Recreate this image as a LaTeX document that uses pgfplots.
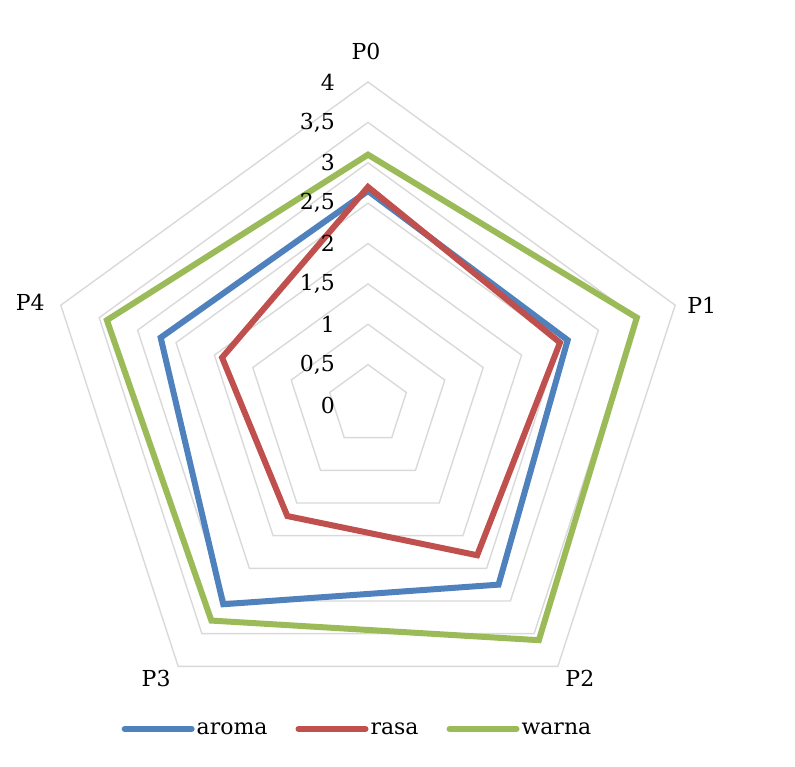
\documentclass[border=0pt]{standalone}
\usepackage{fontspec}
\setmainfont{DejaVu Serif}
\usepackage{pgfplots}
\usepgfplotslibrary{polar}
\pgfplotsset{compat=1.18}
\definecolor{cblue}{HTML}{4F81BD}
\definecolor{cred}{HTML}{C0504D}
\definecolor{cgreen}{HTML}{9BBB59}
\definecolor{gridc}{HTML}{D9D9D9}
\newcommand{\lf}{\fontsize{22bp}{26bp}\selectfont}
\begin{document}
\begin{tikzpicture}
\path[use as bounding box] (0,0) rectangle (795bp,767bp);
\begin{polaraxis}[
  at={(368bp,362bp)}, anchor=center,
  width=646bp, height=646bp, scale only axis,
  xmin=0, xmax=360, ymin=0, ymax=4,
  hide axis, clip=false,
  legend columns=3,
  legend image code/.code={\draw[#1,line cap=round] (0bp,0bp) -- (67bp,0bp);},
  legend style={at={(0.4837,-0.0015)}, anchor=center, draw=none, fill=none,
    font=\lf, inner xsep=0pt, inner ysep=0pt,
    nodes={inner sep=2bp},
    /tikz/every even column/.append style={column sep=26bp}},
]
\addplot[gridc, line width=1.4bp, forget plot] coordinates {(90,0.5)(18,0.5)(306,0.5)(234,0.5)(162,0.5)} --cycle;
\addplot[gridc, line width=1.4bp, forget plot] coordinates {(90,1)(18,1)(306,1)(234,1)(162,1)} --cycle;
\addplot[gridc, line width=1.4bp, forget plot] coordinates {(90,1.5)(18,1.5)(306,1.5)(234,1.5)(162,1.5)} --cycle;
\addplot[gridc, line width=1.4bp, forget plot] coordinates {(90,2)(18,2)(306,2)(234,2)(162,2)} --cycle;
\addplot[gridc, line width=1.4bp, forget plot] coordinates {(90,2.5)(18,2.5)(306,2.5)(234,2.5)(162,2.5)} --cycle;
\addplot[gridc, line width=1.4bp, forget plot] coordinates {(90,3)(18,3)(306,3)(234,3)(162,3)} --cycle;
\addplot[gridc, line width=1.4bp, forget plot] coordinates {(90,3.5)(18,3.5)(306,3.5)(234,3.5)(162,3.5)} --cycle;
\addplot[gridc, line width=1.4bp, forget plot] coordinates {(90,4)(18,4)(306,4)(234,4)(162,4)} --cycle;
% aroma
\addplot[cblue, line width=6bp, line join=miter] coordinates {(90,2.65)(18,2.6)(306,2.75)(234,3.05)(162,2.7)} --cycle;
\addlegendentry{aroma}
% rasa
\addplot[cred, line width=6bp, line join=miter] coordinates {(90,2.7)(18,2.5)(306,2.3)(234,1.7)(162,1.9)} --cycle;
\addlegendentry{rasa}
% warna
\addplot[cgreen, line width=6bp, line join=miter] coordinates {(90,3.1)(18,3.5)(306,3.6)(234,3.3)(162,3.4)} --cycle;
\addlegendentry{warna}
% radial tick labels
\node[font=\lf, anchor=east, inner sep=0pt, xshift=-33bp] at (axis cs:90,0) {0};
\node[font=\lf, anchor=east, inner sep=0pt, xshift=-33bp] at (axis cs:90,0.5) {0,5};
\node[font=\lf, anchor=east, inner sep=0pt, xshift=-33bp] at (axis cs:90,1) {1};
\node[font=\lf, anchor=east, inner sep=0pt, xshift=-33bp] at (axis cs:90,1.5) {1,5};
\node[font=\lf, anchor=east, inner sep=0pt, xshift=-33bp] at (axis cs:90,2) {2};
\node[font=\lf, anchor=east, inner sep=0pt, xshift=-33bp] at (axis cs:90,2.5) {2,5};
\node[font=\lf, anchor=east, inner sep=0pt, xshift=-33bp] at (axis cs:90,3) {3};
\node[font=\lf, anchor=east, inner sep=0pt, xshift=-33bp] at (axis cs:90,3.5) {3,5};
\node[font=\lf, anchor=east, inner sep=0pt, xshift=-33bp] at (axis cs:90,4) {4};
% category labels
\node[font=\lf, anchor=center, inner sep=0pt, xshift=-2bp, yshift=31bp] at (axis cs:90,4) {P0};
\node[font=\lf, anchor=west, inner sep=0pt, xshift=12bp] at (axis cs:18,4) {P1};
\node[font=\lf, anchor=center, inner sep=0pt, xshift=22bp, yshift=-12bp] at (axis cs:306,4) {P2};
\node[font=\lf, anchor=center, inner sep=0pt, xshift=-22bp, yshift=-12bp] at (axis cs:234,4) {P3};
\node[font=\lf, anchor=east, inner sep=0pt, xshift=-16bp, yshift=3bp] at (axis cs:162,4) {P4};
\end{polaraxis}
\end{tikzpicture}
\end{document}
